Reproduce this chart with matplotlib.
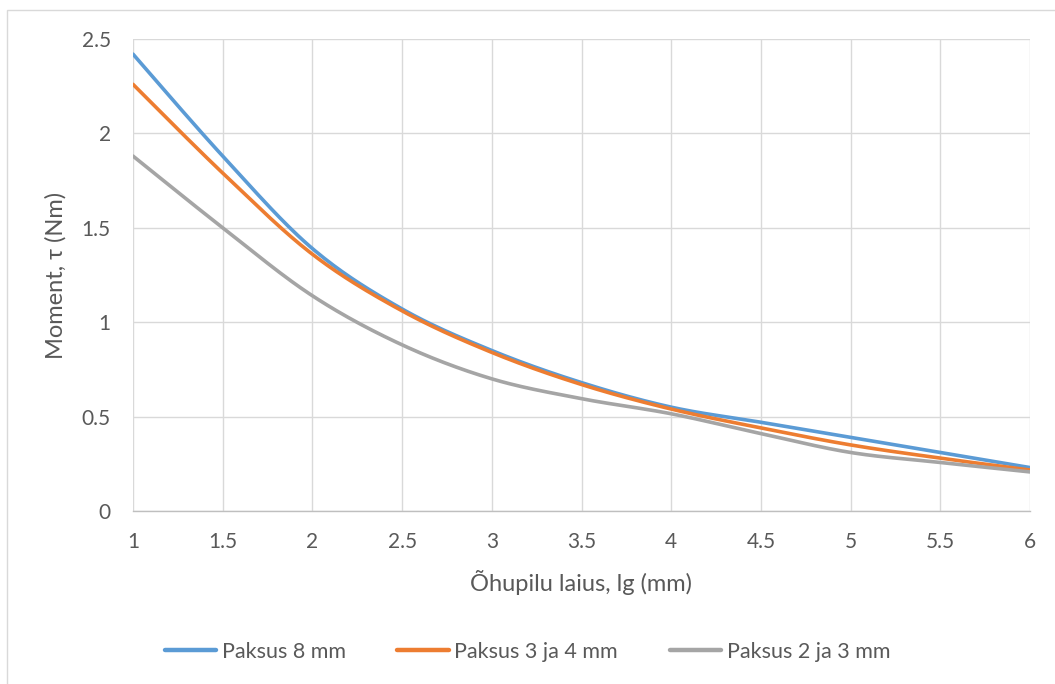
import numpy as np
import matplotlib
matplotlib.use("Agg")
import matplotlib.pyplot as plt
from matplotlib.patches import Rectangle

# Air gap width (mm) and torque (Nm) for three magnet thicknesses
gap_mm = [1, 1.5, 2, 2.5, 3, 3.5, 4, 4.5, 5, 5.5, 6]
torque_8mm = [2.42, 1.88, 1.39, 1.07, 0.85, 0.68, 0.55, 0.47, 0.39, 0.31, 0.23]
torque_3_4mm = [2.26, 1.79, 1.36, 1.06, 0.84, 0.67, 0.54, 0.44, 0.35, 0.28, 0.217]
torque_2_3mm = [1.88, 1.50, 1.14, 0.88, 0.70, 0.595, 0.515, 0.41, 0.31, 0.257, 0.207]

series_labels = ["Paksus 8 mm", "Paksus 3 ja 4 mm", "Paksus 2 ja 3 mm"]
series_colors = ["#5B9BD5", "#ED7D31", "#A5A5A5"]

x_ticks = [1, 1.5, 2, 2.5, 3, 3.5, 4, 4.5, 5, 5.5, 6]
y_ticks = [0, 0.5, 1, 1.5, 2, 2.5]


def smooth(xs, ys, n=30):
    """Catmull-Rom style Bezier smoothing through every data point."""
    xs = np.asarray(xs, float)
    ys = np.asarray(ys, float)
    px, py = [], []
    m = len(xs)
    for i in range(m - 1):
        x0, y0 = (xs[i - 1], ys[i - 1]) if i > 0 else (xs[i], ys[i])
        x1, y1 = xs[i], ys[i]
        x2, y2 = xs[i + 1], ys[i + 1]
        x3, y3 = (xs[i + 2], ys[i + 2]) if i + 2 < m else (x2, y2)
        c1x, c1y = x1 + (x2 - x0) / 6, y1 + (y2 - y0) / 6
        c2x, c2y = x2 - (x3 - x1) / 6, y2 - (y3 - y1) / 6
        t = np.linspace(0, 1, n, endpoint=(i == m - 2))
        a, b, c, d = (1 - t) ** 3, 3 * (1 - t) ** 2 * t, 3 * (1 - t) * t ** 2, t ** 3
        px.append(a * x1 + b * c1x + c * c2x + d * x2)
        py.append(a * y1 + b * c1y + c * c2y + d * y2)
    return np.concatenate(px), np.concatenate(py)


plt.rcParams["font.family"] = ["Lato", "DejaVu Sans"]
text_color = "#595959"

W, H = 1055, 684
fig = plt.figure(figsize=(W / 100, H / 100), dpi=100)
ax = fig.add_axes([133 / W, 1 - 511 / H, (1030 - 133) / W, (511 - 39) / H])

for ys, lab, col in zip([torque_8mm, torque_3_4mm, torque_2_3mm], series_labels, series_colors):
    sx, sy = smooth(gap_mm, ys)
    ax.plot(sx, sy, color=col, lw=2.6, label=lab, solid_capstyle="round", zorder=3)

ax.set_xlim(1, 6)
ax.set_ylim(0, 2.5)
ax.set_xticks(x_ticks)
ax.set_xticklabels([f"{v:g}" for v in x_ticks])
ax.set_yticks(y_ticks)
ax.set_yticklabels([f"{v:g}" for v in y_ticks])
ax.grid(True, color="#D9D9D9", lw=1.0, zorder=0)
ax.set_axisbelow(True)
for s in ["top", "right", "left"]:
    ax.spines[s].set_visible(False)
ax.spines["bottom"].set_color("#BFBFBF")
ax.spines["bottom"].set_linewidth(1.0)
ax.tick_params(axis="both", length=0, labelsize=15, colors=text_color)
ax.tick_params(axis="x", pad=15)
ax.tick_params(axis="y", pad=16)

ax.set_xlabel("Õhupilu laius, lg (mm)", fontsize=17, color=text_color, labelpad=13)
ax.set_ylabel("Moment, τ (Nm)", fontsize=17, color=text_color, labelpad=11)

leg = fig.legend(loc="center", bbox_to_anchor=(0.5, 1 - 652 / H), ncol=3, frameon=False,
                 fontsize=15.5, handlelength=2.4, handletextpad=0.25, columnspacing=2.4)
for t in leg.get_texts():
    t.set_color(text_color)
for h in leg.get_lines():
    h.set_linewidth(3.2)

fig.patches.append(Rectangle((7 / W, -0.01), 1.1, 1 - 10 / H + 0.01, transform=fig.transFigure,
                             fill=False, edgecolor="#D9D9D9", lw=1.0))

fig.savefig("out.png", dpi=100, facecolor="white")
